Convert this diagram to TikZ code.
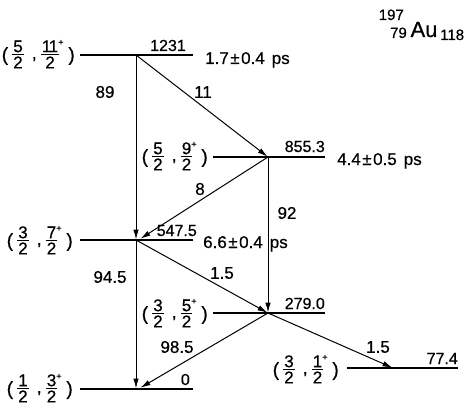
\documentclass[tikz,border=0pt]{standalone}
\usepackage{amsmath}
\usepackage{fontspec}
\setmainfont{Liberation Sans}[FakeBold=0.6]
\usetikzlibrary{arrows.meta}
\newcommand\myfr[2]{$\genfrac{}{}{1.2pt}{1}{\mbox{\hspace{1pt}#1\hspace{1pt}}}{\mbox{\hspace{1pt}#2\hspace{1pt}}}$}
\newcommand\myjp[3]{\raisebox{-2pt}{\fontsize{19}{19}\selectfont(}\hspace{3pt}\myfr{#1}{#2}\hspace{7pt},\hspace{3pt}\myfr{#3\rlap{\raisebox{7pt}{\fontsize{9}{9}\selectfont+}}}{2}\hspace{8pt}\raisebox{-2pt}{\fontsize{19}{19}\selectfont)}}
\tikzset{
  level/.style={line width=1.6pt},
  trans/.style={line width=1pt, -{Latex[length=10pt,width=5.5pt]}, shorten >=0.5pt},
  lbl/.style={font=\fontsize{17}{19}\selectfont, inner sep=0pt},
  enlbl/.style={font=\fontsize{16}{18}\selectfont, inner sep=0pt, anchor=base east},
  life/.style={font=\fontsize{17}{19}\selectfont, inner sep=0pt, anchor=base west},
  spin/.style={font=\fontsize{17}{19}\selectfont, inner sep=0pt, anchor=base east},
}
\newcommand\lt[2]{#1\hspace{1.5pt}±\hspace{1.5pt}#2\hspace{7pt}ps}
\begin{document}
\begin{tikzpicture}[x=1pt,y=-1pt]
\useasboundingbox (0,0) rectangle (465,409);
% level endpoints
\coordinate (a1) at (80,55);   \coordinate (b1) at (193,55);
\coordinate (a2) at (213,157); \coordinate (b2) at (325,157);
\coordinate (a3) at (80,240);  \coordinate (b3) at (193,240);
\coordinate (a4) at (213,313); \coordinate (b4) at (325,313);
\coordinate (a5) at (347,368); \coordinate (b5) at (458,368);
\coordinate (a6) at (80,389);  \coordinate (b6) at (193,389);
% transition points
\coordinate (t1) at (136,55);
\coordinate (t2) at (268,157);
\coordinate (t3) at (136,240);
\coordinate (t3r) at (140,239);
\coordinate (t4) at (268,313);
\coordinate (t5) at (393,368);
\coordinate (t6) at (136,389);
\coordinate (t6r) at (140,388);
% levels
\foreach \i in {1,...,6} \draw[level] (a\i) -- (b\i);
% spin labels (baseline = fraction bar + axis height)
\node[spin] (s1) at (75,59) {\myjp{5}{2}{1\kern-2.5pt 1}};
\node[spin] (s2) at (208,161) {\myjp{5}{2}{9}};
\node[spin] (s3) at (73,245) {\myjp{3}{2}{7}};
\node[spin] (s4) at (208,318) {\myjp{3}{2}{5}};
\node[spin] (s5) at (339,374) {\myjp{3}{2}{1}};
\node[spin] (s6) at (73,393) {\myjp{1}{2}{3}};
% energies
\node[enlbl] (e1) at (186,51) {1231};
\node[enlbl] (e2) at (325,152) {855.3};
\node[enlbl] (e3) at (197,236) {547.5};
\node[enlbl] (e4) at (325,309) {279.0};
\node[enlbl] (e5) at (458,364) {77.4};
\node[enlbl] (e6) at (190,385) {0};
% lifetimes
\node[life] (h1) at (205,64) {\lt{1.7}{0.4}};
\node[life] (h2) at (337,165) {\lt{4.4}{0.5}};
\node[life] (h3) at (203,248) {\lt{6.6}{0.4}};
% transitions
\draw[trans] (t1) -- (t3);
\draw[trans] (t1) -- (t2);
\draw[trans] (t2) -- (t3r);
\draw[trans] (t2) -- (t4);
\draw[trans] (t3) -- (t4);
\draw[trans] (t3) -- (t6);
\draw[trans] (t4) -- (t6r);
\draw[trans] (t4) -- (t5);
% intensities
\node[lbl] (i1) at (105,92) {89};
\node[lbl] (i2) at (203,92) {11};
\node[lbl] (i3) at (200,189) {8};
\node[lbl] (i4) at (287,213) {92};
\node[lbl] (i5) at (222,273) {1.5};
\node[lbl] (i6) at (110,277) {94.5};
\node[lbl] (i7) at (177,347) {98.5};
\node[lbl] (i8) at (378,347) {1.5};
% nucleus
\node[inner sep=0pt, font=\fontsize{22}{22}\selectfont, anchor=base] (au) at (424,37) {Au};
\node[inner sep=0pt, font=\fontsize{15}{15}\selectfont, anchor=base east] (mass) at (404,20) {197};
\node[inner sep=0pt, font=\fontsize{15}{15}\selectfont, anchor=base east] (zz) at (407,38) {79};
\node[inner sep=0pt, font=\fontsize{15}{15}\selectfont, anchor=base west] (nn) at (440,40) {118};
\end{tikzpicture}
\end{document}
